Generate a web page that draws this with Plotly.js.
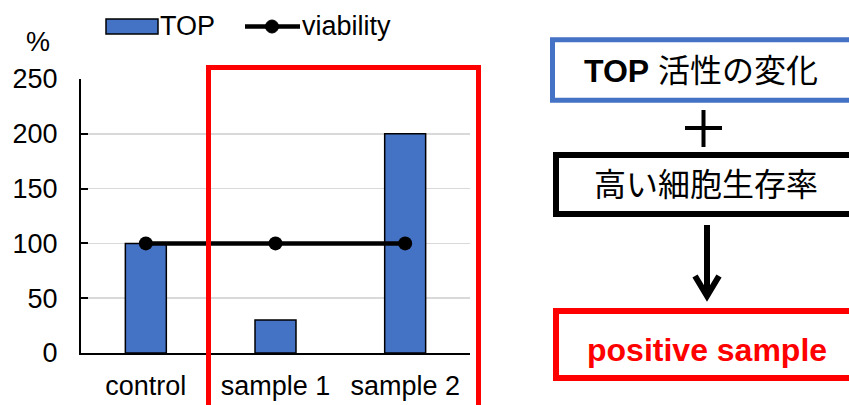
<!DOCTYPE html>
<html>
<head>
<meta charset="utf-8">
<script src="https://cdn.plot.ly/plotly-3.0.1.min.js"></script>
<style>
  html, body { margin: 0; padding: 0; background: #fff; }
  #chart { width: 849px; height: 405px; }
</style>
</head>
<body>
<div id="chart"></div>
<script>
// Data
const categories = ['control', 'sample 1', 'sample 2'];
const topValues = [100, 30, 200];
const viabilityValues = [100, 100, 100];
const yTicks = [0, 50, 100, 150, 200, 250];
const seriesNames = ['TOP', 'viability'];

// Plot area geometry (pixels)
const W = 849, H = 405;
const M = { l: 81, r: 379, t: 79, b: 52 };
const PW = W - M.l - M.r, PH = H - M.t - M.b;
const X = px => (px - M.l) / PW;          // page x -> paper x
const Y = py => (M.t + PH - py) / PH;     // page y -> paper y

const FONT = 'Liberation Sans, Arial, sans-serif';
const CJK = 'Liberation Sans, Arial, "Noto Sans CJK JP", sans-serif';
const BLUE = '#4472C4';
const RED = '#FF0000';
const FS = 27;

const traces = [
  {
    type: 'bar', name: seriesNames[0], x: categories, y: topValues,
    width: 0.316,
    marker: { color: BLUE, line: { color: '#000', width: 1.5 } },
    showlegend: false, hoverinfo: 'skip'
  },
  {
    type: 'scatter', mode: 'lines+markers', name: seriesNames[1],
    x: categories, y: viabilityValues,
    line: { color: '#000', width: 4.5 },
    marker: { color: '#000', size: 14 },
    showlegend: false, hoverinfo: 'skip'
  }
];

const rect = (x0, y0, x1, y1, color, width) => ({
  type: 'rect', xref: 'paper', yref: 'paper',
  x0: X(x0), x1: X(x1), y0: Y(y1), y1: Y(y0),
  line: { color, width }, fillcolor: 'rgba(0,0,0,0)', layer: 'above'
});
const seg = (x0, y0, x1, y1, color, width) => ({
  type: 'line', xref: 'paper', yref: 'paper',
  x0: X(x0), x1: X(x1), y0: Y(y0), y1: Y(y1),
  line: { color, width }, layer: 'above'
});

const shapes = [
  // highlight frame around the samples
  rect(208.5, 67.5, 478.5, 420, RED, 5),
  // legend keys
  { type: 'rect', xref: 'paper', yref: 'paper', x0: X(106), x1: X(158), y0: Y(34), y1: Y(19),
    fillcolor: BLUE, line: { color: '#000', width: 1.5 } },
  seg(245, 26.5, 300, 26.5, '#000', 4.5),
  { type: 'circle', xref: 'paper', yref: 'paper', x0: X(265.5), x1: X(278.5), y0: Y(33), y1: Y(20),
    fillcolor: '#000', line: { color: '#000', width: 1 } },
  // flow boxes
  rect(552.5, 39.8, 858, 100.2, BLUE, 5),
  rect(556, 155, 858, 214, '#000', 6),
  rect(556, 311, 858, 378, RED, 6),
  // plus sign
  seg(685, 128, 722, 128, '#000', 4),
  seg(703.5, 110, 703.5, 147, '#000', 4),
  // arrow
  seg(707, 225, 707, 296, '#000', 6),
  { type: 'path', xref: 'paper', yref: 'paper',
    path: `M ${X(695)} ${Y(276)} L ${X(707)} ${Y(296)} L ${X(719)} ${Y(276)}`,
    line: { color: '#000', width: 6 }, layer: 'above' }
];

const ann = (px, py, text, size, color, anchor) => ({
  xref: 'paper', yref: 'paper', x: X(px), y: Y(py), text,
  showarrow: false, xanchor: anchor || 'center', yanchor: 'middle',
  font: { family: CJK, size, color: color || '#000' }
});

const annotations = [
  ann(38, 42, '%', FS),
  ann(158, 26.5, seriesNames[0], FS, '#000', 'left'),
  ann(300, 26.5, seriesNames[1], FS, '#000', 'left'),
  ann(701, 71, '<b>TOP</b> 活性の変化', 32),
  ann(706, 185, '高い細胞生存率', 32),
  ann(707, 350, '<b>positive sample</b>', 32, RED)
];

const layout = {
  width: W, height: H,
  margin: M,
  paper_bgcolor: '#fff', plot_bgcolor: '#fff',
  font: { family: FONT, size: FS, color: '#000' },
  showlegend: false,
  bargap: 0,
  xaxis: {
    type: 'category', range: [-0.5, 2.5],
    showgrid: false, showline: true, linecolor: '#000', linewidth: 2,
    ticks: '', ticklabelstandoff: 8,
    tickfont: { family: FONT, size: FS, color: '#000' },
    fixedrange: true
  },
  yaxis: {
    range: [0, 250], tickvals: yTicks, ticktext: yTicks.map(String),
    showgrid: true, gridcolor: '#D9D9D9', gridwidth: 1.5,
    zeroline: false, showline: true, linecolor: '#000', linewidth: 2,
    ticks: 'inside', ticklen: 7, tickwidth: 2, tickcolor: '#000',
    ticklabelstandoff: 16,
    tickfont: { family: FONT, size: FS, color: '#000' },
    fixedrange: true
  },
  shapes, annotations
};

Plotly.newPlot('chart', traces, layout, { displayModeBar: false, staticPlot: true });
</script>
</body>
</html>
